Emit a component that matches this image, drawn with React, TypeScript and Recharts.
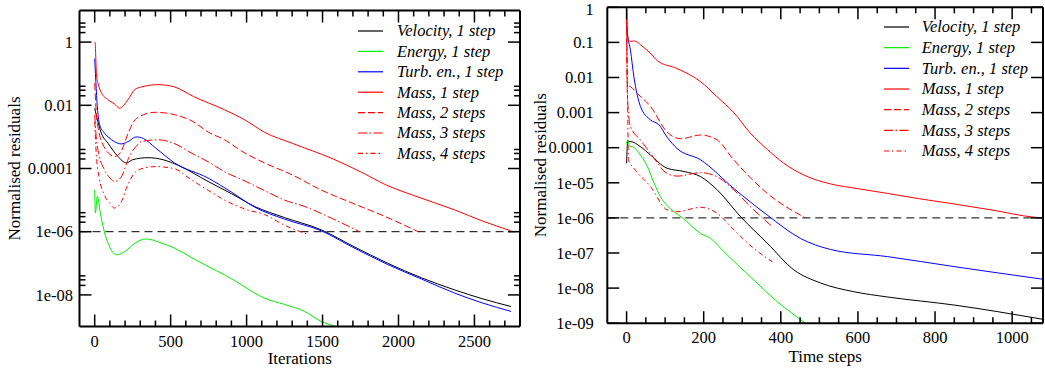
import React from 'react';
import { LineChart, Line, XAxis, YAxis, ReferenceLine, Legend } from 'recharts';

const FONT = '"Liberation Serif", "DejaVu Serif", "Times New Roman", serif';

// ---------------- Left chart: residuals vs iterations ----------------
const itVelocity = [0, 44, 88, 153, 208, 250, 350, 450, 550, 746, 900, 1053, 1250, 1491, 1700, 1930, 2150, 2368, 2550, 2741];
const resVelocity = [8e-3, 1.3e-3, 6.3e-4, 2.4e-4, 1.5e-4, 1.9e-4, 2.2e-4, 1.9e-4, 1.26e-4, 3.9e-5, 1.6e-5, 6.3e-6, 2.8e-6, 1.15e-6, 3.5e-7, 1.0e-7, 3.5e-8, 1.45e-8, 7.6e-9, 4.3e-9];

const itEnergy = [0, 5, 17, 40, 66, 100, 143, 200, 270, 340, 420, 526, 640, 746, 860, 965, 1053, 1118, 1250, 1382, 1491, 1590];
const resEnergy = [2.1e-5, 3.9e-6, 1.3e-5, 3.2e-6, 9.1e-7, 3.2e-7, 1.86e-7, 2.4e-7, 4.5e-7, 5.9e-7, 4.7e-7, 3.0e-7, 1.5e-7, 7.9e-8, 4.2e-8, 2.1e-8, 1.15e-8, 7.9e-9, 5.0e-9, 3.0e-9, 1.45e-9, 1.0e-9];

const itTurb = [0, 5, 15, 33, 60, 88, 130, 175, 220, 274, 320, 400, 526, 746, 900, 1053, 1250, 1491, 1700, 1930, 2150, 2368, 2550, 2741];
const resTurb = [0.3, 0.1, 0.013, 2.4e-3, 1.4e-3, 1.0e-3, 7.1e-4, 6.0e-4, 7.1e-4, 1.0e-3, 8.9e-4, 4.5e-4, 1.5e-4, 5.0e-5, 1.8e-5, 6.0e-6, 2.5e-6, 1.07e-6, 3.2e-7, 9.1e-8, 3.2e-8, 1.15e-8, 5.6e-9, 3.0e-9];

const itMass1 = [0, 2, 12, 22, 44, 88, 130, 164, 219, 263, 307, 417, 526, 650, 855, 1000, 1118, 1300, 1570, 1750, 1920, 2100, 2370, 2550, 2740];
const resMass1 = [1.0, 1.0, 0.09, 0.05, 0.025, 0.015, 0.011, 8.1e-3, 0.015, 0.031, 0.038, 0.045, 0.038, 0.019, 7.2e-3, 3.2e-3, 1.4e-3, 6.3e-4, 2.0e-4, 7.9e-5, 3.0e-5, 1.4e-5, 4.9e-6, 2.2e-6, 1.07e-6];

const itMass2 = [0, 10, 30, 60, 100, 130, 170, 220, 260, 320, 400, 530, 640, 750, 855, 970, 1118, 1300, 1490, 1700, 1900, 2130];
const resMass2 = [0.05, 6.3e-3, 1.3e-3, 5.0e-4, 2.8e-4, 2.4e-4, 3.2e-4, 1.3e-3, 3.2e-3, 5.0e-3, 6.0e-3, 5.0e-3, 3.2e-3, 1.4e-3, 8.1e-4, 3.5e-4, 1.5e-4, 6.3e-5, 2.1e-5, 7.9e-6, 3.2e-6, 1.0e-6];

const itMass3 = [0, 10, 30, 60, 100, 130, 170, 230, 280, 307, 417, 520, 636, 750, 855, 1000, 1118, 1250, 1382, 1550, 1745];
const resMass3 = [5e-3, 1e-3, 2.5e-4, 1e-4, 5e-5, 3.9e-5, 5e-5, 2.5e-4, 5.5e-4, 7.1e-4, 8.1e-4, 6.3e-4, 3.1e-4, 1.6e-4, 7.9e-5, 3.8e-5, 2.0e-5, 1.0e-5, 6.3e-6, 2.8e-6, 1.0e-6];

const itMass4 = [0, 10, 30, 60, 100, 130, 170, 220, 270, 330, 400, 520, 636, 750, 855, 1000, 1118, 1250, 1414];
const resMass4 = [3e-3, 3e-4, 5e-5, 1.6e-5, 7.9e-6, 5.6e-6, 7.9e-6, 3.2e-5, 7.9e-5, 1.05e-4, 1.15e-4, 1.0e-4, 4.4e-5, 2.0e-5, 1.0e-5, 5.0e-6, 3.5e-6, 1.6e-6, 7.9e-7];

// ---------------- Right chart: residuals vs time steps ----------------
const tsVelocity = [0, 3, 10, 36, 62, 105, 149, 192, 235, 296, 365, 434, 503, 589, 676, 849, 1078];
const rVelocity = [3.6e-5, 1.5e-4, 1.5e-4, 1.07e-4, 6.2e-5, 2.6e-5, 2.1e-5, 1.5e-5, 6.3e-6, 1.07e-6, 1.9e-7, 3.3e-8, 1.4e-8, 7.9e-9, 5.6e-9, 3.3e-9, 1.3e-9];

const tsEnergy = [0, 3, 8, 15, 36, 54, 71, 88, 123, 145, 192, 218, 252, 321, 391, 464];
const rEnergy = [1.3e-4, 1.7e-4, 1.1e-4, 1.07e-4, 6.2e-5, 2.9e-5, 1.0e-5, 4.0e-6, 1.5e-6, 1.0e-6, 3.6e-7, 2.6e-7, 1.1e-7, 2.1e-8, 4.1e-9, 1.0e-9];

const tsTurb = [0, 2, 10, 19, 36, 62, 84, 105, 131, 192, 278, 365, 451, 529, 676, 849, 1078];
const rTurb = [0.3, 0.18, 0.06, 0.0105, 1.5e-3, 6.2e-4, 4.5e-4, 2.0e-4, 9.5e-5, 4.5e-5, 6.9e-6, 1.2e-6, 2.6e-7, 1.26e-7, 7.9e-8, 4.1e-8, 1.8e-8];

const tsMass1 = [0, 4, 10, 20, 40, 62, 80, 131, 192, 235, 278, 321, 365, 408, 460, 529, 600, 676, 760, 849, 950, 1056, 1080];
const rMass1 = [1.0, 0.117, 0.107, 0.11, 0.079, 0.049, 0.030, 0.018, 7.6e-3, 2.8e-3, 1.0e-3, 2.6e-4, 8.9e-5, 3.6e-5, 1.66e-5, 9.3e-6, 6.8e-6, 5.0e-6, 3.5e-6, 2.5e-6, 1.66e-6, 1.05e-6, 1.0e-6];

const tsMass2 = [0, 2, 10, 28, 62, 105, 140, 192, 235, 278, 365, 464];
const rMass2 = [1.0, 6.0e-3, 5.5e-3, 3.5e-3, 1.5e-3, 2.8e-4, 1.8e-4, 2.3e-4, 1.66e-4, 4.5e-5, 5.0e-6, 1.0e-6];

const tsMass3 = [0, 2, 10, 36, 62, 105, 131, 192, 235, 278, 321, 378];
const rMass3 = [1.0, 3e-3, 4.0e-4, 1.66e-4, 6.9e-5, 1.86e-5, 1.55e-5, 1.95e-5, 1.48e-5, 6.3e-6, 2.1e-6, 5.6e-7];

const tsMass4 = [0, 2, 5, 19, 62, 105, 131, 192, 235, 278, 330, 378];
const rMass4 = [1.0, 1e-2, 4.5e-5, 2.6e-5, 7.8e-6, 1.7e-6, 1.5e-6, 2.0e-6, 1.35e-6, 4.6e-7, 1.35e-7, 5.6e-8];

// ---------------- names, styles ----------------
const seriesNames = ['Velocity, 1 step', 'Energy, 1 step', 'Turb. en., 1 step', 'Mass, 1 step', 'Mass, 2 steps', 'Mass, 3 steps', 'Mass, 4 steps'];
const seriesColors = ['#000000', '#00ee00', '#0000ff', '#ff0000', '#ff0000', '#ff0000', '#ff0000'];
const seriesDash = ['', '', '', '', '7 3', '9 2.5 1.5 2.5', '5 3 1.5 3'];

const threshold = 1e-6;

// ---------------- axis ticks ----------------
const leftXTicks = [0, 100, 200, 300, 400, 500, 600, 700, 800, 900, 1000, 1100, 1200, 1300, 1400, 1500, 1600, 1700, 1800, 1900, 2000, 2100, 2200, 2300, 2400, 2500, 2600, 2700];
const leftXMajor = [0, 500, 1000, 1500, 2000, 2500];
const leftXLabels = ['0', '500', '1000', '1500', '2000', '2500'];
const leftYMajor = [1, 0.01, 1e-4, 1e-6, 1e-8];
const leftYLabels = ['1', '0.01', '0.0001', '1e-06', '1e-08'];
const leftYMinor = [4, 3, 2, 0.04, 0.03, 0.02, 4e-4, 3e-4, 2e-4, 4e-6, 3e-6, 2e-6, 4e-8, 3e-8, 2e-8];

const rightXTicks = [0, 50, 100, 150, 200, 250, 300, 350, 400, 450, 500, 550, 600, 650, 700, 750, 800, 850, 900, 950, 1000, 1050];
const rightXMajor = [0, 200, 400, 600, 800, 1000];
const rightXLabels = ['0', '200', '400', '600', '800', '1000'];
const rightYMajor = [1, 0.1, 0.01, 1e-3, 1e-4, 1e-5, 1e-6, 1e-7, 1e-8, 1e-9];
const rightYLabels = ['1', '0.1', '0.01', '0.001', '0.0001', '1e-05', '1e-06', '1e-07', '1e-08', '1e-09'];

const MAJOR_LEN = 12;
const MINOR_LEN = 6;
const TICK_FS = 16.5;

const toData = (xs: number[], ys: number[]) => xs.map((x, i) => ({ x, v: ys[i] }));

const BottomTick = (props: any) => {
  const { x, y, payload, majors, labels } = props;
  const idx = majors.indexOf(payload.value);
  const isMajor = idx >= 0;
  return (
    <g>
      <line x1={x} x2={x} y1={y} y2={y - (isMajor ? MAJOR_LEN : MINOR_LEN)} stroke="#000" strokeWidth={1.5} />
      {isMajor && labels ? (
        <text x={x} y={y + 20} textAnchor="middle" fontFamily={FONT} fontSize={TICK_FS} fill="#000">
          {labels[idx]}
        </text>
      ) : null}
    </g>
  );
};

const TopTick = (props: any) => {
  const { x, y, payload, majors } = props;
  const isMajor = majors.indexOf(payload.value) >= 0;
  return <line x1={x} x2={x} y1={y} y2={y + (isMajor ? MAJOR_LEN : MINOR_LEN)} stroke="#000" strokeWidth={1.5} />;
};

const LeftTick = (props: any) => {
  const { x, y, payload, majors, labels, gap } = props;
  const idx = majors.indexOf(payload.value);
  const isMajor = idx >= 0;
  return (
    <g>
      <line x1={x} x2={x + (isMajor ? MAJOR_LEN : MINOR_LEN)} y1={y} y2={y} stroke="#000" strokeWidth={1.5} />
      {isMajor && labels ? (
        <text x={x - gap} y={Math.max(y, 9.5)} dy="0.35em" textAnchor="end" fontFamily={FONT} fontSize={TICK_FS} fill="#000">
          {labels[idx]}
        </text>
      ) : null}
    </g>
  );
};

const RightTick = (props: any) => {
  const { x, y, payload, majors } = props;
  const isMajor = majors.indexOf(payload.value) >= 0;
  return <line x1={x} x2={x - (isMajor ? MAJOR_LEN : MINOR_LEN)} y1={y} y2={y} stroke="#000" strokeWidth={1.5} />;
};

const LegendBox = ({ gap, textX }: { gap: number; textX: number }) => (
  <svg width={175} height={150} style={{ display: 'block', overflow: 'visible' }}>
    {seriesNames.map((name, i) => {
      const cy = 10 + i * gap;
      return (
        <g key={name}>
          <line x1={3} x2={28} y1={cy} y2={cy} stroke={seriesColors[i]} strokeWidth={1.2} strokeDasharray={seriesDash[i] || undefined} />
          <text x={textX} y={cy} dy="0.33em" fontFamily={FONT} fontStyle="italic" fontSize={16.5} fill="#000">
            {name}
          </text>
        </g>
      );
    })}
  </svg>
);

const AX = { stroke: '#000', strokeWidth: 2 };

type PanelProps = {
  width: number;
  margin: { top: number; right: number; bottom: number; left: number };
  xDomain: [number, number];
  yDomain: [number, number];
  xTicks: number[];
  xMajor: number[];
  xLabels: string[];
  yTicks: number[];
  yMajor: number[];
  yLabels: string[];
  yAxisWidth: number;
  xAxisHeight: number;
  yLabelGap: number;
  xTitle: string;
  xTitleOffset: number;
  yTitleOffset: number;
  xs: number[][];
  ys: number[][];
  legendPos: { left: number; top: number };
  legendGap: number;
  legendTextX: number;
};

const Panel = (p: PanelProps) => (
  <LineChart width={p.width} height={370} margin={p.margin}>
    <XAxis
      xAxisId="b"
      type="number"
      dataKey="x"
      domain={p.xDomain}
      allowDataOverflow
      ticks={p.xTicks}
      interval={0}
      tickSize={0}
      tickMargin={0}
      tickLine={false}
      axisLine={AX}
      height={p.xAxisHeight}
      tick={<BottomTick majors={p.xMajor} labels={p.xLabels} />}
      label={{ value: p.xTitle, position: 'insideBottom', offset: p.xTitleOffset, fill: '#000', fontSize: 17, fontFamily: FONT }}
    />
    <XAxis
      xAxisId="t"
      orientation="top"
      type="number"
      dataKey="x"
      domain={p.xDomain}
      allowDataOverflow
      ticks={p.xTicks}
      interval={0}
      tickSize={0}
      tickMargin={0}
      tickLine={false}
      axisLine={AX}
      height={1}
      tick={<TopTick majors={p.xMajor} />}
    />
    <YAxis
      yAxisId="l"
      type="number"
      scale="log"
      domain={p.yDomain}
      allowDataOverflow
      ticks={p.yTicks}
      interval={0}
      tickSize={0}
      tickMargin={0}
      tickLine={false}
      axisLine={AX}
      width={p.yAxisWidth}
      tick={<LeftTick majors={p.yMajor} labels={p.yLabels} gap={p.yLabelGap} />}
      label={{
        value: 'Normalised residuals',
        angle: -90,
        position: 'insideLeft',
        offset: p.yTitleOffset,
        fill: '#000',
        fontSize: 17,
        fontFamily: FONT,
        style: { textAnchor: 'middle' },
      }}
    />
    <YAxis
      yAxisId="r"
      orientation="right"
      type="number"
      scale="log"
      domain={p.yDomain}
      allowDataOverflow
      ticks={p.yTicks}
      interval={0}
      tickSize={0}
      tickMargin={0}
      tickLine={false}
      axisLine={AX}
      width={1}
      tick={<RightTick majors={p.yMajor} />}
    />
    <ReferenceLine xAxisId="b" yAxisId="l" y={threshold} stroke="#000" strokeWidth={1} strokeDasharray="8 5" />
    {seriesNames.map((name, i) => (
      <Line
        key={name}
        name={name}
        xAxisId="b"
        yAxisId="l"
        data={toData(p.xs[i], p.ys[i])}
        dataKey="v"
        type="monotone"
        stroke={seriesColors[i]}
        strokeWidth={1}
        strokeDasharray={seriesDash[i] || undefined}
        dot={false}
        activeDot={false}
        isAnimationActive={false}
      />
    ))}
    <Legend
      layout="horizontal"
      verticalAlign="middle"
      align="center"
      wrapperStyle={{ left: p.legendPos.left, top: p.legendPos.top, width: 175, height: 150 }}
      content={() => <LegendBox gap={p.legendGap} textX={p.legendTextX} />}
    />
  </LineChart>
);

export default function App() {
  return (
    <div style={{ position: 'absolute', left: 0, top: 0, width: 1045, height: 370, background: '#fff', overflow: 'hidden' }}>
      <div style={{ position: 'absolute', left: 0, top: 0 }}>
        <Panel
          width={521}
          margin={{ top: 9.5, right: 0, bottom: 0, left: 0 }}
          xDomain={[-100, 2800]}
          yDomain={[1e-9, 10]}
          xTicks={leftXTicks}
          xMajor={leftXMajor}
          xLabels={leftXLabels}
          yTicks={[...leftYMajor, ...leftYMinor]}
          yMajor={leftYMajor}
          yLabels={leftYLabels}
          yAxisWidth={79.5}
          xAxisHeight={43.5}
          yLabelGap={6.5}
          xTitle="Iterations"
          xTitleOffset={6}
          yTitleOffset={14}
          xs={[itVelocity, itEnergy, itTurb, itMass1, itMass2, itMass3, itMass4]}
          ys={[resVelocity, resEnergy, resTurb, resMass1, resMass2, resMass3, resMass4]}
          legendPos={{ left: 355, top: 21 }}
          legendGap={20.4}
          legendTextX={42}
        />
      </div>
      <div style={{ position: 'absolute', left: 520, top: 0 }}>
        <Panel
          width={525}
          margin={{ top: 6.3, right: 1, bottom: 0, left: 0 }}
          xDomain={[-50, 1080]}
          yDomain={[1e-9, 1]}
          xTicks={rightXTicks}
          xMajor={rightXMajor}
          xLabels={rightXLabels}
          yTicks={rightYMajor}
          yMajor={rightYMajor}
          yLabels={rightYLabels}
          yAxisWidth={87.3}
          xAxisHeight={46.8}
          yLabelGap={13.5}
          xTitle="Time steps"
          xTitleOffset={8.5}
          yTitleOffset={20}
          xs={[tsVelocity, tsEnergy, tsTurb, tsMass1, tsMass2, tsMass3, tsMass4]}
          ys={[rVelocity, rEnergy, rTurb, rMass1, rMass2, rMass3, rMass4]}
          legendPos={{ left: 361, top: 16.7 }}
          legendGap={20.67}
          legendTextX={40.7}
        />
      </div>
    </div>
  );
}
